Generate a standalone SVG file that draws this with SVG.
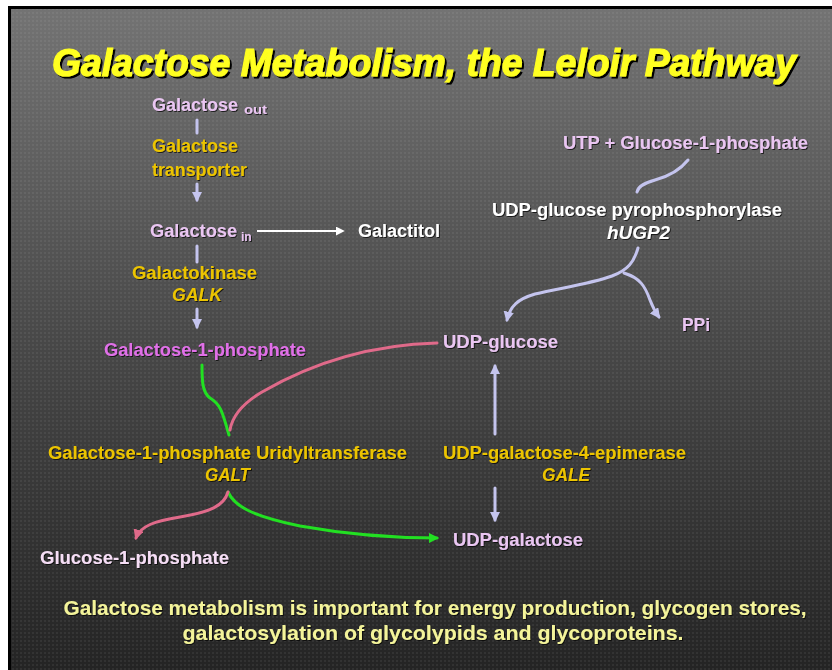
<svg xmlns="http://www.w3.org/2000/svg" width="832" height="670" viewBox="0 0 832 670">
<style>
text{font-family:"Liberation Sans",Arial,sans-serif;font-weight:bold;}
.enz{fill:#ecc400;font-size:18px;}
.it{font-style:italic;}
.lav{fill:#eac6f2;font-size:18px;}
.wh{fill:#ffffff;font-size:18px;}
.mag{fill:#e070e8;font-size:18px;}
.sub{font-size:12px;}
.bl{fill:none;stroke:#c4c4ee;stroke-width:3;stroke-linecap:round;}
.gr{fill:none;stroke:#22e022;stroke-width:3;stroke-linecap:round;}
.pk{fill:none;stroke:#e06a8a;stroke-width:3;stroke-linecap:round;}
.wl{fill:none;stroke:#ffffff;stroke-width:2;}
.ft{fill:#f4f49a;font-size:21px;}
</style>
<defs>
<linearGradient id="bg" x1="0" y1="0" x2="0" y2="1">
<stop offset="0" stop-color="#737373"/>
<stop offset="0.5" stop-color="#484848"/>
<stop offset="1" stop-color="#242424"/>
</linearGradient>
<pattern id="dots" width="4" height="4" patternUnits="userSpaceOnUse">
<rect x="0" y="0" width="2" height="2" fill="#ffffff" opacity="0.06"/>
</pattern>
<marker id="aBl" viewBox="0 0 10 10" refX="8" refY="5" markerWidth="3.5" markerHeight="3.5" orient="auto" markerUnits="strokeWidth">
<path d="M0,0 L10,5 L0,10 z" fill="#c4c4ee"/>
</marker>
<marker id="aGr" viewBox="0 0 10 10" refX="8" refY="5" markerWidth="3.5" markerHeight="3.5" orient="auto" markerUnits="strokeWidth">
<path d="M0,0 L10,5 L0,10 z" fill="#22e022"/>
</marker>
<marker id="aPk" viewBox="0 0 10 10" refX="8" refY="5" markerWidth="3.5" markerHeight="3.5" orient="auto" markerUnits="strokeWidth">
<path d="M0,0 L10,5 L0,10 z" fill="#e06a8a"/>
</marker>
<marker id="aWh" viewBox="0 0 10 10" refX="8" refY="5" markerWidth="4.5" markerHeight="4.5" orient="auto" markerUnits="strokeWidth">
<path d="M0,0 L10,5 L0,10 z" fill="#ffffff"/>
</marker>
<filter id="sh" x="-5%" y="-20%" width="110%" height="150%">
<feDropShadow dx="2" dy="2" stdDeviation="0.6" flood-color="#000" flood-opacity="1"/>
</filter>
<filter id="ts" x="-5%" y="-20%" width="110%" height="150%">
<feDropShadow dx="1" dy="1" stdDeviation="0.5" flood-color="#000" flood-opacity="0.7"/>
</filter>
</defs>
<rect x="0" y="0" width="832" height="670" fill="#ffffff"/>
<rect x="8" y="6" width="824" height="664" fill="#000000"/>
<rect x="11" y="9" width="821" height="661" fill="url(#bg)"/>
<rect x="11" y="9" width="821" height="661" fill="url(#dots)"/>

<g id="title" filter="url(#sh)">
<text x="424" y="76" text-anchor="middle" font-size="38" font-style="italic" fill="#ffff20" stroke="#ffff20" stroke-width="1.2" textLength="744" lengthAdjust="spacingAndGlyphs">Galactose Metabolism, the Leloir Pathway</text>
</g>

<g id="connectors">
<line class="bl" x1="197" y1="120" x2="197" y2="133"/>
<line class="bl" x1="197" y1="184" x2="197" y2="200" marker-end="url(#aBl)"/>
<line class="wl" x1="257" y1="231" x2="343" y2="231" marker-end="url(#aWh)"/>
<line class="bl" x1="197" y1="246" x2="197" y2="262"/>
<line class="bl" x1="197" y1="309" x2="197" y2="327" marker-end="url(#aBl)"/>
<path class="bl" d="M688,160 C680,170 670,176 655,180 C645,183 638,186 637,192"/>
<path class="bl" d="M638,248 C634,262 628,270 612,276 C590,284 560,288 535,294 C518,299 510,306 507,320" marker-end="url(#aBl)"/>
<path class="bl" d="M624,273 C640,278 645,286 650,300 C653,308 656,313 659,317" stroke-width="2" marker-end="url(#aBl)"/>
<line class="bl" x1="495" y1="434" x2="495" y2="366" marker-end="url(#aBl)"/>
<line class="bl" x1="495" y1="488" x2="495" y2="520" marker-end="url(#aBl)"/>
<path class="gr" d="M202,365 C202,380 202,392 210,398 C220,404 222,410 229,435"/>
<path class="pk" d="M437,343 C360,345 300,370 262,392 C240,405 232,418 230,430"/>
<path class="gr" d="M228,492 C234,505 248,515 300,526 C350,535 400,538 437,538" marker-end="url(#aGr)"/>
<path class="pk" d="M228,492 C224,506 210,512 180,517 C155,521 140,526 136,538" marker-end="url(#aPk)"/>
</g>

<g filter="url(#ts)">
<g id="galactose-out"><text class="lav" x="152" y="111" textLength="86" lengthAdjust="spacingAndGlyphs">Galactose</text><text class="lav sub" x="244" y="114" textLength="23" lengthAdjust="spacingAndGlyphs">out</text></g>
<g id="transporter"><text class="enz" x="152" y="152" textLength="86" lengthAdjust="spacingAndGlyphs">Galactose</text><text class="enz" x="152" y="176" textLength="95" lengthAdjust="spacingAndGlyphs">transporter</text></g>
<g id="galactose-in"><text class="lav" x="150" y="237" textLength="87" lengthAdjust="spacingAndGlyphs">Galactose</text><text class="lav sub" x="241" y="241">in</text></g>
<g id="galactitol"><text class="wh" x="358" y="237" textLength="82" lengthAdjust="spacingAndGlyphs">Galactitol</text></g>
<g id="galk"><text class="enz" x="132" y="279" textLength="125" lengthAdjust="spacingAndGlyphs">Galactokinase</text><text class="enz it" x="172" y="301" textLength="50" lengthAdjust="spacingAndGlyphs">GALK</text></g>
<g id="gal1p"><text class="mag" x="104" y="356" textLength="202" lengthAdjust="spacingAndGlyphs">Galactose-1-phosphate</text></g>
<g id="galt"><text class="enz" x="48" y="459" textLength="359" lengthAdjust="spacingAndGlyphs">Galactose-1-phosphate Uridyltransferase</text><text class="enz it" x="205" y="481" textLength="45" lengthAdjust="spacingAndGlyphs">GALT</text></g>
<g id="glc1p"><text class="lav" x="40" y="564" style="fill:#f6def6" textLength="189" lengthAdjust="spacingAndGlyphs">Glucose-1-phosphate</text></g>
<g id="udp-glucose"><text class="lav" x="443" y="348" textLength="115" lengthAdjust="spacingAndGlyphs">UDP-glucose</text></g>
<g id="gale"><text class="enz" x="443" y="459" textLength="243" lengthAdjust="spacingAndGlyphs">UDP-galactose-4-epimerase</text><text class="enz it" x="542" y="481" textLength="48" lengthAdjust="spacingAndGlyphs">GALE</text></g>
<g id="udp-galactose"><text class="lav" x="453" y="546" textLength="130" lengthAdjust="spacingAndGlyphs">UDP-galactose</text></g>
<g id="utp-g1p"><text class="lav" x="563" y="149" textLength="245" lengthAdjust="spacingAndGlyphs">UTP + Glucose-1-phosphate</text></g>
<g id="ugp2"><text class="wh" x="492" y="216" textLength="290" lengthAdjust="spacingAndGlyphs">UDP-glucose pyrophosphorylase</text><text class="wh it" x="607" y="239" textLength="63" lengthAdjust="spacingAndGlyphs">hUGP2</text></g>
<g id="ppi"><text class="lav" x="682" y="331" textLength="28" lengthAdjust="spacingAndGlyphs">PPi</text></g>
<g id="footer">
<text class="ft" x="435" y="615" text-anchor="middle" textLength="743" lengthAdjust="spacingAndGlyphs">Galactose metabolism is important for energy production, glycogen stores,</text>
<text class="ft" x="433" y="640" text-anchor="middle" textLength="501" lengthAdjust="spacingAndGlyphs">galactosylation of glycolypids and glycoproteins.</text>
</g>
</g>
</svg>
